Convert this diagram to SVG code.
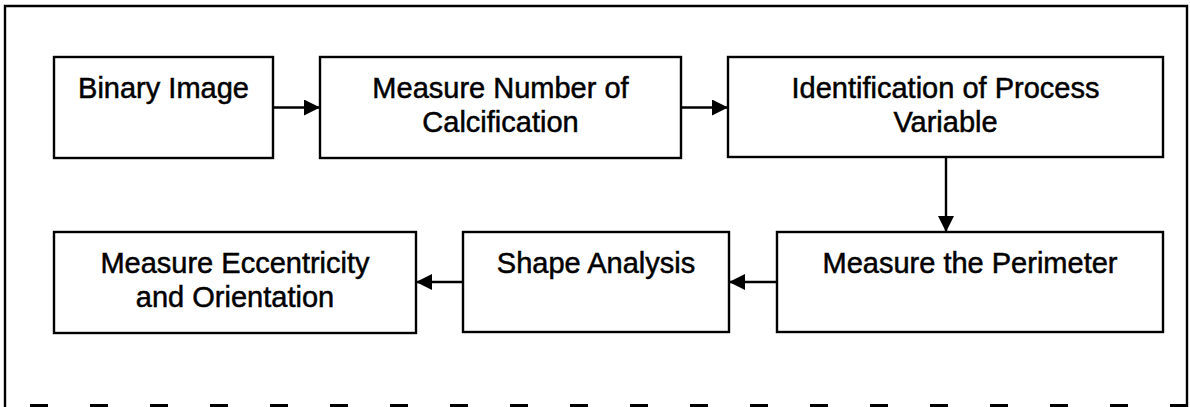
<svg xmlns="http://www.w3.org/2000/svg" width="1190" height="407" viewBox="0 0 1190 407">
<style>
.box{fill:#fff;stroke:#000;stroke-width:2.4}
.lbl{font-family:"Liberation Sans",Arial,sans-serif;font-size:29px;fill:#000;stroke:#000;stroke-width:0.5;text-anchor:middle}
.con{stroke:#000;stroke-width:2.4;fill:none}
.frame{stroke:#000;stroke-width:2.4;fill:none}
</style>
<defs>
<marker id="ah" markerWidth="16" markerHeight="16" refX="16" refY="8" orient="auto" markerUnits="userSpaceOnUse">
<path d="M0,0 L16,8 L0,16 Z" fill="#000"/>
</marker>
</defs>
<rect width="1190" height="407" fill="#fff"/>
<g id="frame">
<path class="frame" d="M5,407 L5,6 L1187,6 L1187,407"/>
<line x1="30" y1="405.5" x2="1187" y2="405.5" stroke="#000" stroke-width="3" stroke-dasharray="18 42"/>
</g>
<g id="connectors">
<line class="con" x1="273" y1="107.5" x2="320" y2="107.5" marker-end="url(#ah)"/>
<line class="con" x1="681" y1="107.5" x2="728" y2="107.5" marker-end="url(#ah)"/>
<line class="con" x1="946" y1="157" x2="946" y2="232" marker-end="url(#ah)"/>
<line class="con" x1="777" y1="282" x2="729" y2="282" marker-end="url(#ah)"/>
<line class="con" x1="463" y1="282" x2="416" y2="282" marker-end="url(#ah)"/>
</g>
<g id="n1">
<rect class="box" x="54" y="57" width="219" height="101"/>
<text class="lbl" x="163.5" y="97.5">Binary Image</text>
</g>
<g id="n2">
<rect class="box" x="320" y="57" width="361" height="101"/>
<text class="lbl" x="500.5" y="97.5">Measure Number of</text>
<text class="lbl" x="500.5" y="131.5">Calcification</text>
</g>
<g id="n3">
<rect class="box" x="728" y="57" width="435" height="100"/>
<text class="lbl" x="945.5" y="97.5">Identification of Process</text>
<text class="lbl" x="945.5" y="131.5">Variable</text>
</g>
<g id="n4">
<rect class="box" x="777" y="232" width="386" height="100"/>
<text class="lbl" x="970" y="272.5">Measure the Perimeter</text>
</g>
<g id="n5">
<rect class="box" x="463" y="232" width="266" height="100"/>
<text class="lbl" x="596" y="272.5">Shape Analysis</text>
</g>
<g id="n6">
<rect class="box" x="54" y="232" width="362" height="101"/>
<text class="lbl" x="235" y="272.5">Measure Eccentricity</text>
<text class="lbl" x="235" y="306.5">and Orientation</text>
</g>
</svg>
